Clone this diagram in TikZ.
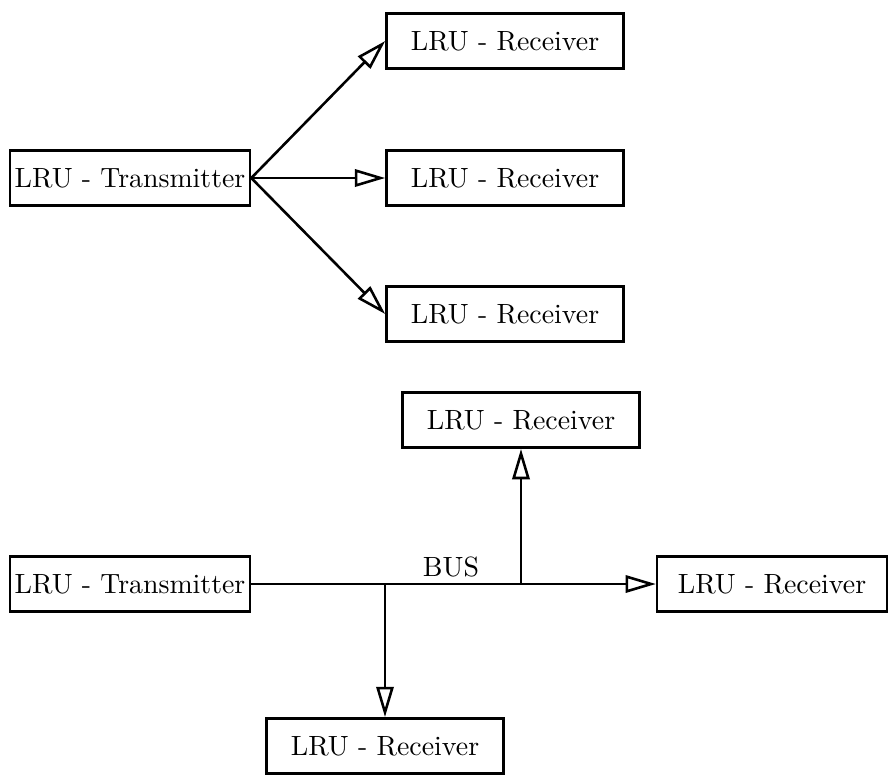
\documentclass[tikz,border=0pt]{standalone}
\usetikzlibrary{arrows.meta}
\begin{document}
\begin{tikzpicture}[x=0.37pt,y=-0.37pt,font=\fontsize{10.3}{12}\selectfont,
  box/.style={draw,line width=0.95pt,inner sep=0pt,minimum height=20.5pt,minimum width=87.7pt},
  tbox/.style={box,minimum width=88.8pt},
  conn/.style={line width=0.95pt},
  arr/.style={conn,-{Triangle[open,length=11.2pt,width=6.4pt]}}]
\useasboundingbox (0,0) rectangle (889,774);
% top section
\node[tbox] (t1) at (130,178) {LRU - Transmitter};
\node[box] (r1) at (505,41) {LRU - Receiver};
\node[box] (r2) at (505,178) {LRU - Receiver};
\node[box] (r3) at (505,314) {LRU - Receiver};
\draw[arr] (t1.east) -- (r1.west);
\draw[arr] (t1.east) -- (r2.west);
\draw[arr] (t1.east) -- (r3.west);
% bottom section
\node[tbox] (t2) at (130,584) {LRU - Transmitter};
\node[box] (r4) at (521,420) {LRU - Receiver};
\node[box,minimum width=85pt] (r5) at (772,584) {LRU - Receiver};
\node[box] (r6) at (385,746) {LRU - Receiver};
\coordinate (j1) at (385,584);
\coordinate (j2) at (521,584);
\draw[arr] (t2.east) -- (r5.west);
\draw[arr] (j1) -- (r6.north);
\draw[arr] (j2) -- (r4.south);
\node (bus) at (451,567) {BUS};
\end{tikzpicture}
\end{document}
